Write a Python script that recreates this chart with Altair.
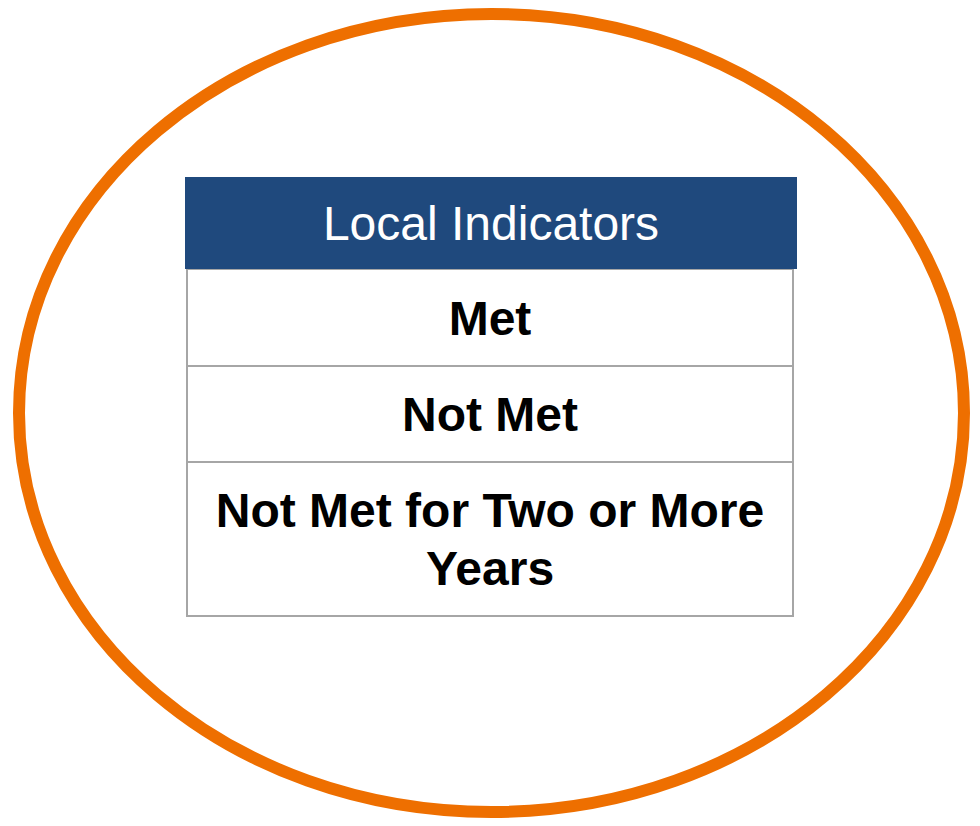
import altair as alt
import pandas as pd

# ---- content ----
header_text = ["Local Indicators"]
row_labels = ["Met", "Not Met", "Not Met for Two or More\nYears"]

# ---- layout (page pixel coordinates) ----
row_top = [269, 366, 462]
row_bottom = [366, 462, 616]
label_y = [335, 431, 527]
BOX_X0, BOX_X1 = 187, 793
HEAD_X0, HEAD_X1, HEAD_Y0, HEAD_Y1 = 185, 797, 177, 269
HEAD_TEXT_Y = 240
CX, CY, RX, RY = 491.5, 413, 472.5, 399

W, H = 964, 810
xs = alt.Scale(domain=[8, 8 + W])
ys = alt.Scale(domain=[8, 8 + H], reverse=True)

rows = pd.DataFrame({
    "label": row_labels,
    "x0": [BOX_X0] * 3, "x1": [BOX_X1] * 3,
    "y0": row_top, "y1": row_bottom,
    "ty": label_y, "tx": [(BOX_X0 + BOX_X1) / 2] * 3,
})
head = pd.DataFrame({
    "label": header_text,
    "x0": [HEAD_X0], "x1": [HEAD_X1], "y0": [HEAD_Y0], "y1": [HEAD_Y1],
    "tx": [(HEAD_X0 + HEAD_X1) / 2], "ty": [HEAD_TEXT_Y],
})
ell = pd.DataFrame({"cx": [CX], "cy": [CY]})

k = RY / RX
ellipse_path = f"M -1 0 A 1 {k:.4f} 0 1 1 1 0 A 1 {k:.4f} 0 1 1 -1 0 Z"

row_rects = alt.Chart(rows).mark_rect(
    fill="white", stroke="#a6a6a6", strokeWidth=2
).encode(
    x=alt.X("x0:Q", scale=xs, axis=None), x2="x1:Q",
    y=alt.Y("y0:Q", scale=ys, axis=None), y2="y1:Q",
)
row_text = alt.Chart(rows).mark_text(
    font="Liberation Sans", fontSize=48, fontWeight="bold", color="black",
    align="center", baseline="alphabetic", lineBreak="\n", lineHeight=58,
).encode(
    x=alt.X("tx:Q", scale=xs, axis=None),
    y=alt.Y("ty:Q", scale=ys, axis=None),
    text="label:N",
)
head_rect = alt.Chart(head).mark_rect(fill="#1f497d").encode(
    x=alt.X("x0:Q", scale=xs, axis=None), x2="x1:Q",
    y=alt.Y("y0:Q", scale=ys, axis=None), y2="y1:Q",
)
head_text = alt.Chart(head).mark_text(
    font="Liberation Sans", fontSize=48, color="white",
    align="center", baseline="alphabetic",
).encode(
    x=alt.X("tx:Q", scale=xs, axis=None),
    y=alt.Y("ty:Q", scale=ys, axis=None),
    text="label:N",
)
ellipse = alt.Chart(ell).mark_point(
    shape=ellipse_path, filled=False, stroke="#ee6f00", strokeWidth=12,
    opacity=1, size=(2 * RX) ** 2,
).encode(
    x=alt.X("cx:Q", scale=xs, axis=None),
    y=alt.Y("cy:Q", scale=ys, axis=None),
)

chart = alt.layer(ellipse, row_rects, head_rect, row_text, head_text).properties(
    width=W, height=H, padding=0, autosize=alt.AutoSizeParams(type="none"),
    background="white",
).configure_view(stroke=None)

chart.save("out.html", embed_options={"renderer": "svg", "actions": False})
